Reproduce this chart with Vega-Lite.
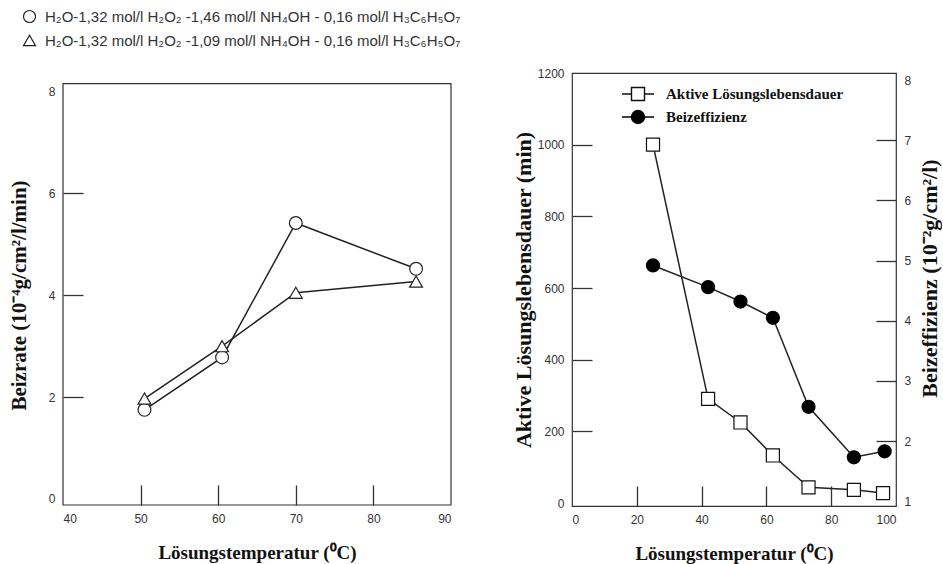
{
  "$schema": "https://vega.github.io/schema/vega-lite/v6.json",
  "autosize": {"type": "pad"},
  "padding": {"left": 8, "top": 9, "right": 0, "bottom": 0},
  "background": "white",
  "bounds": "flush",
  "spacing": 121,
  "config": {
    "font": "Liberation Sans",
    "axis": {
      "grid": false, "domain": false,
      "tickSize": -20, "tickColor": "#333", "tickWidth": 1.3,
      "labelPadding": 28, "labelFont": "Liberation Sans", "labelFontSize": 12, "labelColor": "#333",
      "titleFont": "Liberation Serif", "titleFontWeight": "bold", "titleFontSize": 19, "titleColor": "#111"
    }
  },
  "resolve": {
    "scale": {"shape": "independent", "stroke": "independent"},
    "legend": {"shape": "independent", "stroke": "independent"}
  },
  "hconcat": [
    {
      "width": 388, "height": 432,
      "view": {"stroke": null},
      "layer": [
        {
          "data": {"values": [{}]},
          "mark": {"type": "rect", "fill": null, "stroke": "#333", "strokeWidth": 1.2},
          "encoding": {
            "x": {"datum": 40, "type": "quantitative",
              "scale": {"domain": [40, 90], "nice": false, "zero": false},
              "axis": {"values": [40, 50, 60, 70, 80, 90], "title": "Lösungstemperatur (⁰C)", "titlePadding": 19,
                "tickOpacity": {"condition": {"test": "datum.value == 40 || datum.value == 90", "value": 0}, "value": 1}}},
            "x2": {"datum": 90},
            "y": {"datum": -0.12, "type": "quantitative",
              "scale": {"domain": [-0.12, 8.367], "nice": false, "zero": false},
              "axis": {"values": [0, 2, 4, 6, 8], "title": "Beizrate (10⁻⁴g/cm²/l/min)", "titlePadding": 19, "titleFontSize": 21, "titleY": 222,
                "tickOpacity": {"condition": {"test": "datum.value == 0 || datum.value == 8", "value": 0}, "value": 1}}},
            "y2": {"datum": 8.16}
          }
        },
        {
          "data": {"values": [
            {"cond": "H₂O-1,32 mol/l H₂O₂ -1,46 mol/l NH₄OH - 0,16 mol/l H₃C₆H₅O₇", "T": 50.5, "rate": 1.75},
            {"cond": "H₂O-1,32 mol/l H₂O₂ -1,46 mol/l NH₄OH - 0,16 mol/l H₃C₆H₅O₇", "T": 60.5, "rate": 2.78},
            {"cond": "H₂O-1,32 mol/l H₂O₂ -1,46 mol/l NH₄OH - 0,16 mol/l H₃C₆H₅O₇", "T": 70, "rate": 5.42},
            {"cond": "H₂O-1,32 mol/l H₂O₂ -1,46 mol/l NH₄OH - 0,16 mol/l H₃C₆H₅O₇", "T": 85.5, "rate": 4.52},
            {"cond": "H₂O-1,32 mol/l H₂O₂ -1,09 mol/l NH₄OH - 0,16 mol/l H₃C₆H₅O₇", "T": 50.5, "rate": 1.97},
            {"cond": "H₂O-1,32 mol/l H₂O₂ -1,09 mol/l NH₄OH - 0,16 mol/l H₃C₆H₅O₇", "T": 60.5, "rate": 3.0},
            {"cond": "H₂O-1,32 mol/l H₂O₂ -1,09 mol/l NH₄OH - 0,16 mol/l H₃C₆H₅O₇", "T": 70, "rate": 4.05},
            {"cond": "H₂O-1,32 mol/l H₂O₂ -1,09 mol/l NH₄OH - 0,16 mol/l H₃C₆H₅O₇", "T": 85.5, "rate": 4.27}
          ]},
          "encoding": {
            "x": {"field": "T", "type": "quantitative",
              "scale": {"domain": [40, 90], "nice": false, "zero": false},
              "axis": {"values": [40, 50, 60, 70, 80, 90], "title": "Lösungstemperatur (⁰C)", "titlePadding": 19,
                "tickOpacity": {"condition": {"test": "datum.value == 40 || datum.value == 90", "value": 0}, "value": 1}}},
            "y": {"field": "rate", "type": "quantitative",
              "scale": {"domain": [-0.12, 8.367], "nice": false, "zero": false},
              "axis": {"values": [0, 2, 4, 6, 8], "title": "Beizrate (10⁻⁴g/cm²/l/min)", "titlePadding": 19, "titleFontSize": 21, "titleY": 222,
                "tickOpacity": {"condition": {"test": "datum.value == 0 || datum.value == 8", "value": 0}, "value": 1}}}
          },
          "layer": [
            {
              "mark": {"type": "line", "stroke": "#222", "strokeWidth": 1.5},
              "encoding": {"detail": {"field": "cond"}}
            },
            {
              "mark": {"type": "point", "filled": true, "fill": "white", "strokeWidth": 1.2, "size": 165, "opacity": 1},
              "encoding": {
                "shape": {"field": "cond", "type": "nominal",
                  "scale": {"domain": [
                    "H₂O-1,32 mol/l H₂O₂ -1,46 mol/l NH₄OH - 0,16 mol/l H₃C₆H₅O₇",
                    "H₂O-1,32 mol/l H₂O₂ -1,09 mol/l NH₄OH - 0,16 mol/l H₃C₆H₅O₇"], "range": ["circle", "triangle-up"]},
                  "legend": {"title": null, "orient": "none", "legendX": -41, "legendY": -64, "padding": 0,
                    "labelFont": "Liberation Sans", "labelFontSize": 15, "labelColor": "#333", "labelOffset": 8,
                    "rowPadding": 7, "symbolSize": 144, "symbolStrokeWidth": 1.2, "labelLimit": 600}},
                "stroke": {"field": "cond", "type": "nominal",
                  "scale": {"domain": [
                    "H₂O-1,32 mol/l H₂O₂ -1,46 mol/l NH₄OH - 0,16 mol/l H₃C₆H₅O₇",
                    "H₂O-1,32 mol/l H₂O₂ -1,09 mol/l NH₄OH - 0,16 mol/l H₃C₆H₅O₇"], "range": ["#222", "#222"]},
                  "legend": {"title": null, "orient": "none", "legendX": -41, "legendY": -64, "padding": 0,
                    "labelFont": "Liberation Sans", "labelFontSize": 15, "labelColor": "#333", "labelOffset": 8,
                    "rowPadding": 7, "symbolSize": 144, "symbolStrokeWidth": 1.2, "labelLimit": 600}}
              }
            }
          ]
        }
      ]
    },
    {
      "width": 324, "height": 433,
      "view": {"stroke": "#333", "strokeWidth": 1.2},
      "resolve": {"scale": {"y": "independent", "stroke": "independent"}, "legend": {"stroke": "independent"}},
      "layer": [
        {
          "data": {"values": [
            {"serie": "Aktive Lösungslebensdauer", "T": 25, "L": 1000},
            {"serie": "Aktive Lösungslebensdauer", "T": 42, "L": 291},
            {"serie": "Aktive Lösungslebensdauer", "T": 52, "L": 225},
            {"serie": "Aktive Lösungslebensdauer", "T": 62, "L": 133},
            {"serie": "Aktive Lösungslebensdauer", "T": 73, "L": 44},
            {"serie": "Aktive Lösungslebensdauer", "T": 87, "L": 37},
            {"serie": "Aktive Lösungslebensdauer", "T": 96, "L": 28}
          ]},
          "encoding": {
            "x": {"field": "T", "type": "quantitative",
              "scale": {"domain": [0, 100], "nice": false, "zero": false},
              "axis": {"values": [0, 20, 40, 60, 80, 100], "title": "Lösungstemperatur (⁰C)", "titlePadding": 19,
                "tickOpacity": {"condition": {"test": "datum.value == 0 || datum.value == 100", "value": 0}, "value": 1}}},
            "y": {"field": "L", "type": "quantitative",
              "scale": {"domain": [-8, 1200], "nice": false, "zero": false},
              "axis": {"values": [0, 200, 400, 600, 800, 1000, 1200], "format": "d", "title": "Aktive Lösungslebensdauer (min)",
                "titlePadding": 2, "titleFontSize": 22,
                "tickOpacity": {"condition": {"test": "datum.value == 0 || datum.value == 1200", "value": 0}, "value": 1}}}
          },
          "layer": [
            {"mark": {"type": "line", "stroke": "#222", "strokeWidth": 1.5}, "encoding": {}},
            {
              "mark": {"type": "square", "filled": true, "fill": "white", "strokeWidth": 1.2, "size": 170, "opacity": 1},
              "encoding": {
                "stroke": {"field": "serie", "type": "nominal", "scale": {"range": ["#111"]},
                  "legend": {"title": null, "orient": "none", "legendX": 55, "legendY": 10, "padding": 0,
                    "labelFont": "Liberation Serif", "labelFontWeight": "bold", "labelFontSize": 15, "labelColor": "#111",
                    "labelOffset": 17, "symbolSize": 400, "symbolStrokeWidth": 1.4, "symbolFillColor": "white",
                    "symbolType": "M-1.6,0H-0.65M0.65,0H1.6M-0.65,-0.65H0.65V0.65H-0.65Z", "labelLimit": 600}}
              }
            }
          ]
        },
        {
          "data": {"values": [
            {"serie": "Beizeffizienz", "T": 25, "E": 4.92},
            {"serie": "Beizeffizienz", "T": 42, "E": 4.56},
            {"serie": "Beizeffizienz", "T": 52, "E": 4.32},
            {"serie": "Beizeffizienz", "T": 62, "E": 4.05},
            {"serie": "Beizeffizienz", "T": 73, "E": 2.57},
            {"serie": "Beizeffizienz", "T": 87, "E": 1.73},
            {"serie": "Beizeffizienz", "T": 96.5, "E": 1.83}
          ]},
          "encoding": {
            "x": {"field": "T", "type": "quantitative"},
            "y": {"field": "E", "type": "quantitative",
              "scale": {"domain": [0.92, 8.12], "nice": false, "zero": false},
              "axis": {"orient": "right", "values": [1, 2, 3, 4, 5, 6, 7, 8], "title": "Beizeffizienz (10⁻²g/cm²/l)",
                "titleAngle": 270, "titleBaseline": "top", "titlePadding": 9, "titleFontSize": 22, "titleY": 205,
                "tickOpacity": {"condition": {"test": "datum.value == 1 || datum.value == 8", "value": 0}, "value": 1}}}
          },
          "layer": [
            {"mark": {"type": "line", "stroke": "#222", "strokeWidth": 1.5}, "encoding": {}},
            {
              "mark": {"type": "circle", "filled": true, "fill": "black", "strokeWidth": 1.2, "size": 170, "opacity": 1},
              "encoding": {
                "stroke": {"field": "serie", "type": "nominal", "scale": {"range": ["#000"]},
                  "legend": {"title": null, "orient": "none", "legendX": 55, "legendY": 33, "padding": 0,
                    "labelFont": "Liberation Serif", "labelFontWeight": "bold", "labelFontSize": 15, "labelColor": "#111",
                    "labelOffset": 17, "symbolSize": 400, "symbolStrokeWidth": 1.4, "symbolFillColor": "black",
                    "symbolType": "M-1.6,0H-0.65M0.65,0H1.6M0.65,0A0.65,0.65,0,1,1,-0.65,0A0.65,0.65,0,1,1,0.65,0Z", "labelLimit": 600}}
              }
            }
          ]
        }
      ]
    }
  ]
}
